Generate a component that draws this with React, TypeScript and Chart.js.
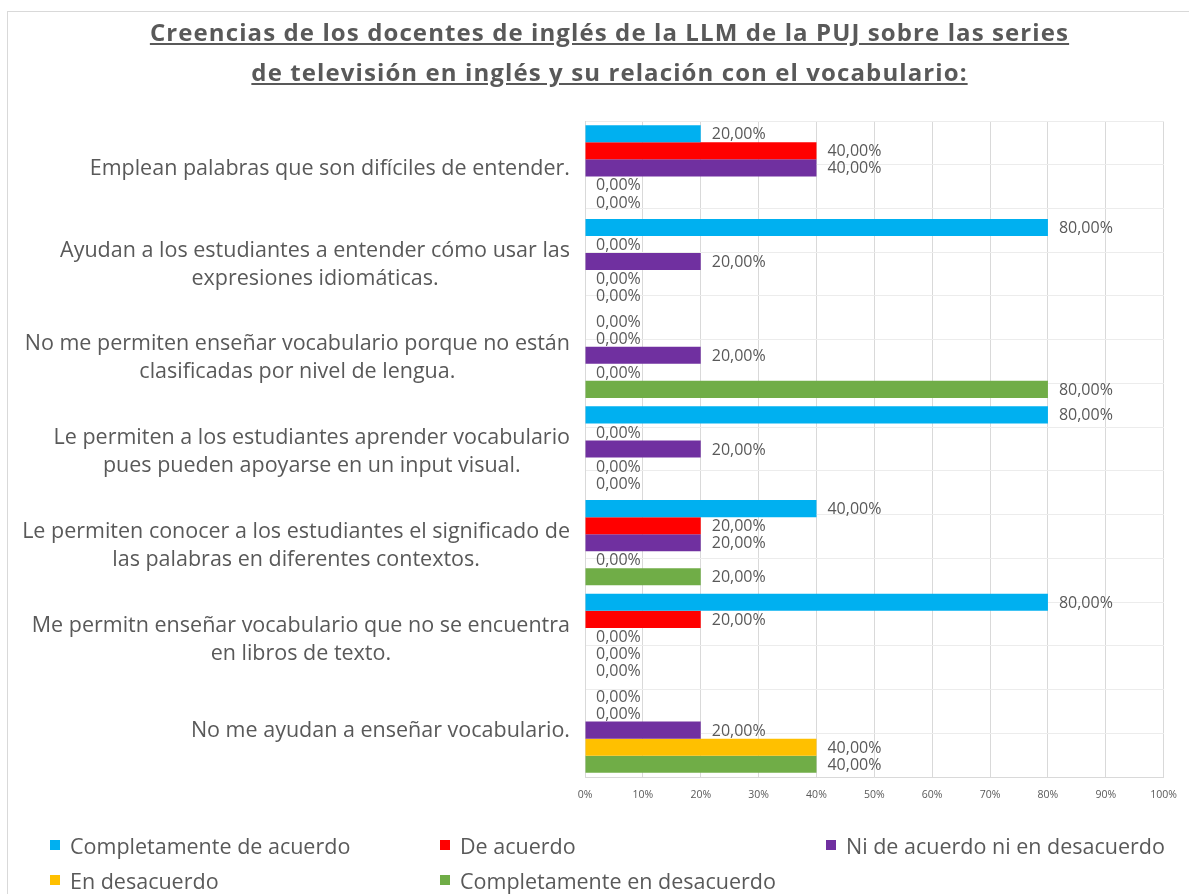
import React, { useEffect, useRef } from "react";
import { Chart, registerables } from "chart.js";

Chart.register(...registerables);

const titleLines = [
  "Creencias de los docentes de inglés de la LLM de la PUJ sobre las series",
  "de televisión en inglés y su relación con el vocabulario:",
];

const categories: string[][] = [
  ["Emplean palabras que son difíciles de entender."],
  ["Ayudan a los estudiantes a entender cómo usar las", "expresiones idiomáticas."],
  ["No me permiten enseñar vocabulario porque no están", "clasificadas por nivel de lengua."],
  ["Le permiten a los estudiantes aprender vocabulario", "pues pueden apoyarse en un input visual."],
  ["Le permiten conocer a los estudiantes el significado de", "las palabras en diferentes contextos."],
  ["Me permitn enseñar vocabulario que no se encuentra", "en libros de texto."],
  ["No me ayudan a enseñar vocabulario."],
];

const seriesNames = [
  "Completamente de acuerdo",
  "De acuerdo",
  "Ni de acuerdo ni en desacuerdo",
  "En desacuerdo",
  "Completamente en desacuerdo",
];
const seriesColors = ["#00B0F0", "#FF0000", "#7030A0", "#FFC000", "#70AD47"];

const completamenteDeAcuerdo = [20, 80, 0, 80, 40, 80, 0];
const deAcuerdo = [40, 0, 0, 0, 20, 20, 0];
const niDeAcuerdoNiEnDesacuerdo = [40, 20, 20, 20, 20, 0, 20];
const enDesacuerdo = [0, 0, 0, 0, 0, 0, 40];
const completamenteEnDesacuerdo = [0, 0, 80, 0, 20, 0, 40];

const seriesValues = [
  completamenteDeAcuerdo,
  deAcuerdo,
  niDeAcuerdoNiEnDesacuerdo,
  enDesacuerdo,
  completamenteEnDesacuerdo,
];

const xTickLabels = ["0%", "10%", "20%", "30%", "40%", "50%", "60%", "70%", "80%", "90%", "100%"];

const TEXT = "#595959";
const FONT = "'Open Sans', 'DejaVu Sans', sans-serif";

const fmt = (v: number) => v.toFixed(2).replace(".", ",") + "%";

const valueLabels = {
  id: "valueLabels",
  afterDatasetsDraw(chart: any) {
    const ctx = chart.ctx;
    ctx.save();
    ctx.font = `16px ${FONT}`;
    ctx.fillStyle = TEXT;
    ctx.textAlign = "left";
    ctx.textBaseline = "middle";
    chart.data.datasets.forEach((ds: any, d: number) => {
      const meta = chart.getDatasetMeta(d);
      meta.data.forEach((el: any, i: number) => {
        ctx.fillText(fmt(ds.data[i]), el.x + 11, el.y + 1);
      });
    });
    ctx.restore();
  },
};

const categoryLabels = {
  id: "categoryLabels",
  afterDraw(chart: any) {
    const ctx = chart.ctx;
    const yScale = chart.scales.y;
    const right = chart.chartArea.left - 15;
    const lh = 28;
    ctx.save();
    ctx.font = `21.5px ${FONT}`;
    ctx.fillStyle = TEXT;
    ctx.textAlign = "center";
    ctx.textBaseline = "middle";
    categories.forEach((lines, i) => {
      const maxW = Math.max(...lines.map((l) => ctx.measureText(l).width));
      const cx = right - maxW / 2;
      const cy = yScale.getPixelForValue(i);
      const start = cy - ((lines.length - 1) * lh) / 2 + (lines.length > 1 ? 3 : 1);
      lines.forEach((l, k) => ctx.fillText(l, cx, start + k * lh));
    });
    ctx.restore();
  },
};

export default function App() {
  const ref = useRef<HTMLCanvasElement | null>(null);

  useEffect(() => {
    if (!ref.current) return;
    const chart = new Chart(ref.current, {
      type: "bar",
      data: {
        labels: categories.map((c) => c.join(" ")),
        datasets: seriesNames.map((name, i) => ({
          label: name,
          data: seriesValues[i],
          backgroundColor: seriesColors[i],
          borderWidth: 0,
          categoryPercentage: 0.91,
          barPercentage: 1,
        })),
      },
      options: {
        indexAxis: "y",
        animation: false,
        responsive: false,
        layout: { padding: { left: 585, right: 24, top: 121, bottom: 87 } },
        plugins: {
          legend: { display: false },
          title: { display: false },
          tooltip: { enabled: false },
        },
        scales: {
          x: {
            min: 0,
            max: 100,
            ticks: {
              stepSize: 10,
              padding: 12,
              color: TEXT,
              font: { family: FONT, size: 10.5 },
              callback: (_v: any, idx: number) => xTickLabels[idx],
            },
            grid: { color: "#d9d9d9", drawTicks: false },
            border: { color: "#d9d9d9" },
            afterFit: (s: any) => {
              s.height = 30;
            },
          },
          y: {
            type: "category",
            ticks: { display: false },
            grid: { display: false, drawTicks: false },
            border: { color: "#d9d9d9" },
          },
          y2: {
            type: "linear",
            position: "right",
            min: 0,
            max: categories.length * 2,
            ticks: { display: false, stepSize: 1 },
            grid: { color: "#ececec", drawTicks: false },
            border: { display: false },
          },
        },
      } as any,
      plugins: [valueLabels, categoryLabels],
    });
    return () => chart.destroy();
  }, []);

  return (
    <div
      style={{
        position: "absolute",
        left: 0,
        top: 0,
        width: 1189,
        height: 894,
        background: "#fff",
        overflow: "hidden",
        fontFamily: FONT,
      }}
    >
      <div
        style={{
          position: "absolute",
          left: 7,
          top: 11,
          width: 1200,
          height: 900,
          border: "1px solid #d9d9d9",
        }}
      />
      <canvas
        ref={ref}
        width={1189}
        height={894}
        style={{ position: "absolute", left: 0, top: 0, width: 1189, height: 894 }}
      />
      <div
        style={{
          position: "absolute",
          left: 30,
          top: 12,
          width: 1159,
          textAlign: "center",
          color: TEXT,
          fontWeight: 700,
          fontSize: 24,
          letterSpacing: 1.1,
          lineHeight: "40px",
        }}
      >
        {titleLines.map((t, i) => (
          <div key={i}>
            <span style={{ textDecoration: "underline" }}>{t}</span>
          </div>
        ))}
      </div>
      {seriesNames.map((name, i) => {
        const colX = [50, 440, 826];
        const rowY = [845, 880];
        return (
          <div
            key={name}
            style={{
              position: "absolute",
              left: colX[i % 3],
              top: rowY[Math.floor(i / 3)] - 14,
              height: 28,
              display: "flex",
              alignItems: "center",
              color: TEXT,
              fontSize: 21.5,
              whiteSpace: "nowrap",
            }}
          >
            <span
              style={{
                display: "inline-block",
                width: 10,
                height: 10,
                background: seriesColors[i],
                marginRight: 10,
              }}
            />
            <span>{name}</span>
          </div>
        );
      })}
    </div>
  );
}
